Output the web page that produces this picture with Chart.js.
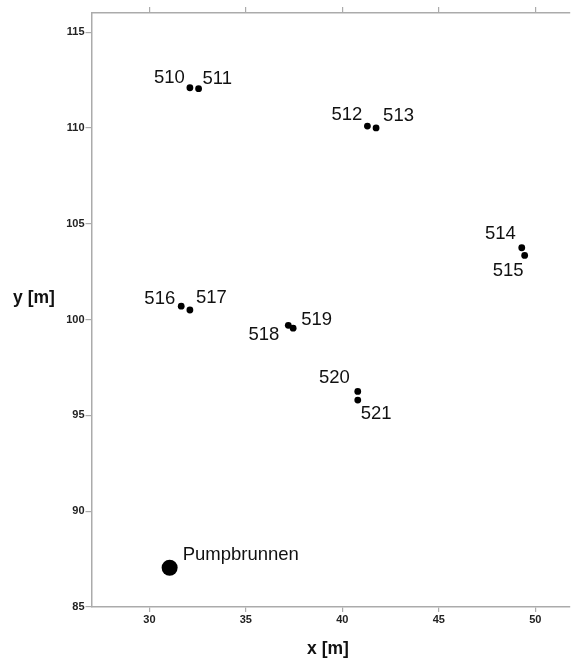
<!DOCTYPE html>
<html>
<head>
<meta charset="utf-8">
<script src="https://cdn.jsdelivr.net/npm/chart.js@4.4.1/dist/chart.umd.min.js"></script>
<style>
  html, body { margin: 0; padding: 0; background: #fff; }
  canvas { display: block; }
</style>
</head>
<body>
<canvas id="lageplan" width="571" height="660"></canvas>
<script>
// Messstellen (observation wells) and the pumping well, coordinates in metres
const wellIds = ['510', '511', '512', '513', '514', '515', '516', '517', '518', '519', '520', '521'];
const wellX = [32.1, 32.55, 41.3, 41.75, 49.3, 49.45, 31.65, 32.1, 37.2, 37.45, 40.8, 40.8];
const wellY = [112.1, 112.05, 110.1, 110.0, 103.75, 103.35, 100.7, 100.5, 99.7, 99.55, 96.25, 95.8];

const pumpName = 'Pumpbrunnen';
const pumpX = [31.05];
const pumpY = [87.05];

// label placement next to each dot: [align, dx, dy] in px
const wellLabelPos = [
  ['right', -5, -10], ['left', 4, -10],
  ['right', -5, -11], ['left', 7, -12],
  ['right', -6, -14], ['right', -1, 16],
  ['right', -6, -7],  ['left', 6, -12],
  ['right', -9, 10],  ['left', 8, -8],
  ['right', -8, -14], ['left', 3, 14]
];

const AXIS_GREY = '#ababab';
const TICK_FONT = { family: 'Liberation Sans, Arial, sans-serif', size: 11, weight: 'bold' };

// fixed box sizes, no extra room for overhanging tick labels
const fixHeight = h => s => { s.height = h; s.paddingLeft = 0; s.paddingRight = 0; };

// labels beside the points plus the two axis titles
const annotate = {
  id: 'annotate',
  afterDatasetsDraw(chart) {
    const { ctx, scales: { x, y } } = chart;
    ctx.save();
    ctx.fillStyle = '#111';
    ctx.textBaseline = 'middle';
    ctx.font = '18.5px "Liberation Sans", Arial, sans-serif';
    wellIds.forEach((id, i) => {
      const [align, dx, dy] = wellLabelPos[i];
      ctx.textAlign = align;
      ctx.fillText(id, x.getPixelForValue(wellX[i]) + dx, y.getPixelForValue(wellY[i]) + dy);
    });
    ctx.textAlign = 'left';
    ctx.fillText(pumpName, x.getPixelForValue(pumpX[0]) + 13, y.getPixelForValue(pumpY[0]) - 13);

    ctx.font = 'bold 17.5px "Liberation Sans", Arial, sans-serif';
    ctx.textAlign = 'center';
    ctx.fillText('y [m]', 34, 298);
    ctx.fillText('x [m]', 328, 649);
    ctx.restore();
  }
};

new Chart(document.getElementById('lageplan'), {
  type: 'scatter',
  data: {
    datasets: [
      {
        label: 'Messstellen',
        data: wellX.map((v, i) => ({ x: v, y: wellY[i] })),
        backgroundColor: '#000',
        borderColor: '#000',
        pointRadius: 3.4,
        borderWidth: 0
      },
      {
        label: pumpName,
        data: pumpX.map((v, i) => ({ x: v, y: pumpY[i] })),
        backgroundColor: '#000',
        borderColor: '#000',
        pointRadius: 8,
        borderWidth: 0
      }
    ]
  },
  options: {
    responsive: false,
    animation: false,
    layout: { autoPadding: false, padding: { left: 0, right: 1, top: 0, bottom: 0 } },
    plugins: {
      legend: { display: false },
      tooltip: { enabled: false }
    },
    scales: {
      x: {
        type: 'linear',
        position: 'bottom',
        min: 27,
        max: 51.8,
        afterFit: fixHeight(53),
        border: { color: AXIS_GREY, width: 1.5 },
        grid: { drawOnChartArea: false, drawTicks: true, tickLength: 5, color: AXIS_GREY, lineWidth: 1.2 },
        ticks: { stepSize: 5, includeBounds: false, color: '#222', font: TICK_FONT, padding: 1, maxRotation: 0 }
      },
      x2: {
        type: 'linear',
        position: 'top',
        min: 27,
        max: 51.8,
        afterFit: fixHeight(13),
        border: { color: AXIS_GREY, width: 1.5 },
        grid: { drawOnChartArea: false, drawTicks: true, tickLength: 6, color: AXIS_GREY, lineWidth: 1.2 },
        ticks: { stepSize: 5, includeBounds: false, display: false }
      },
      y: {
        type: 'linear',
        position: 'left',
        min: 85,
        max: 116,
        afterFit: s => { s.width = 91.5; s.paddingTop = 0; s.paddingBottom = 0; },
        border: { color: AXIS_GREY, width: 1.5 },
        grid: { drawOnChartArea: false, drawTicks: true, tickLength: 6, color: AXIS_GREY, lineWidth: 1.2 },
        ticks: { stepSize: 5, includeBounds: false, color: '#222', font: TICK_FONT, padding: 1 }
      }
    }
  },
  plugins: [annotate]
});
</script>
</body>
</html>
